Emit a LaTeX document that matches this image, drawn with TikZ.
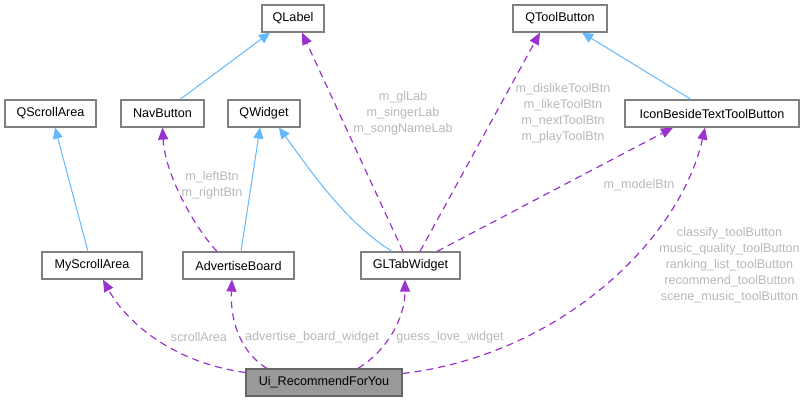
\documentclass[tikz,border=0pt]{standalone}
\usepackage{fontspec}
\setmainfont{Liberation Sans}
\usepackage{xcolor}
\definecolor{cBorder}{HTML}{808080}
\definecolor{cSelf}{HTML}{999999}
\definecolor{cSelfBorder}{HTML}{666666}
\definecolor{cInherit}{HTML}{63B8FF}
\definecolor{cUse}{HTML}{9A32CD}
\definecolor{cLabel}{HTML}{B8B8B8}
\usepackage{tikz}
\usetikzlibrary{positioning,arrows.meta}
\tikzset{
  node-class/.style={draw=cBorder,line width=1.2bp,fill=white,
    minimum height=27bp,inner sep=0pt,
    font=\fontsize{12.6bp}{16bp}\selectfont},
  node-self/.style={node-class,draw=cSelfBorder,fill=cSelf},
  edge-label/.style={text=cLabel,align=center,inner sep=0pt,
    font=\fontsize{12.6bp}{16bp}\selectfont},
  arrow-inherit/.style={-{Triangle[length=11bp,width=10bp]},line width=1bp,draw=cInherit},
  arrow-use/.style={-{Triangle[length=12bp,width=10bp]},line width=1.2bp,
    dash pattern=on 7bp off 5bp,draw=cUse},
}

\begin{document}
\begin{tikzpicture}[x=1bp,y=-1bp]
  \useasboundingbox (0,0) rectangle (809,401);
  % classes
  \node[node-class,minimum width=62bp]  (qlabel)   at (293,18.5)   {QLabel};
  \node[node-class,minimum width=94bp]  (qtool)    at (560,18.5)   {QToolButton};
  \node[node-class,minimum width=91bp]  (qscroll)  at (50.5,113.5) {QScrollArea};
  \node[node-class,minimum width=83bp]  (nav)      at (162.5,113.5){NavButton};
  \node[node-class,minimum width=72bp]  (qwidget)  at (264,113.5)  {QWidget};
  \node[node-class,minimum width=174bp] (icon)     at (712,113.5)  {IconBesideTextToolButton};
  \node[node-class,minimum width=100bp] (myscroll) at (92,265.5)   {MyScrollArea};
  \node[node-class,minimum width=111bp] (adv)      at (238.5,265.5){AdvertiseBoard};
  \node[node-class,minimum width=99bp]  (gltab)    at (410.5,265.5){GLTabWidget};
  \node[node-self,minimum width=156bp]  (ui)       at (324,382.5)  {Ui\_RecommendForYou};

  % inheritance
  \draw[arrow-inherit] ([xshift=17.5bp]nav.north) -- ([xshift=-23bp]qlabel.south);
  \draw[arrow-inherit] ([xshift=-4bp]myscroll.north) -- ([xshift=4.5bp]qscroll.south);
  \draw[arrow-inherit] ([xshift=2.5bp]adv.north) -- ([xshift=-4bp]qwidget.south);
  \draw[arrow-inherit] ([xshift=-18.5bp]gltab.north)
    .. controls (345,222) and (310,170) .. ([xshift=15bp]qwidget.south);
  \draw[arrow-inherit] ([xshift=-21bp]icon.north) -- ([xshift=22bp]qtool.south);

  % members
  \draw[arrow-use] ([xshift=-21.5bp]adv.north)
    .. controls (195,228) and (165,175) .. (nav.south);
  \draw[arrow-use] ([xshift=-7.5bp]gltab.north) -- ([xshift=9bp]qlabel.south);
  \draw[arrow-use] ([xshift=9.5bp]gltab.north) -- ([xshift=-20bp]qtool.south);
  \draw[arrow-use] ([xshift=26.5bp]gltab.north) -- ([xshift=-39bp]icon.south);
  \draw[arrow-use] ([yshift=10bp]ui.west)
    .. controls (170,362) and (125,320) .. ([xshift=11bp]myscroll.south);
  \draw[arrow-use] ([xshift=-57bp]ui.north)
    .. controls (240,352) and (230,320) .. ([xshift=-6.5bp]adv.south);
  \draw[arrow-use] ([xshift=34bp]ui.north)
    .. controls (385,352) and (405,320) .. ([xshift=-5.5bp]gltab.south);
  \draw[arrow-use] ([yshift=9bp]ui.east)
    .. controls (560,355) and (680,240) .. ([xshift=-7bp]icon.south);

  % labels
  \node[edge-label] (lbl-nav)   at (212,185.5) {m\_leftBtn\\m\_rightBtn};
  \node[edge-label] (lbl-lab)   at (403,113)   {m\_glLab\\m\_singerLab\\m\_songNameLab};
  \node[edge-label] (lbl-tool)  at (563,113)   {m\_dislikeToolBtn\\m\_likeToolBtn\\m\_nextToolBtn\\m\_playToolBtn};
  \node[edge-label] (lbl-model) at (639,185)   {m\_modelBtn};
  \node[edge-label] (lbl-icon)  at (729.5,265) {classify\_toolButton\\music\_quality\_toolButton\\ranking\_list\_toolButton\\recommend\_toolButton\\scene\_music\_toolButton};
  \node[edge-label] (lbl-scroll) at (199,337)  {scrollArea};
  \node[edge-label] (lbl-adv)   at (312,337)   {advertise\_board\_widget};
  \node[edge-label] (lbl-guess) at (450,337)   {guess\_love\_widget};
\end{tikzpicture}
\end{document}
